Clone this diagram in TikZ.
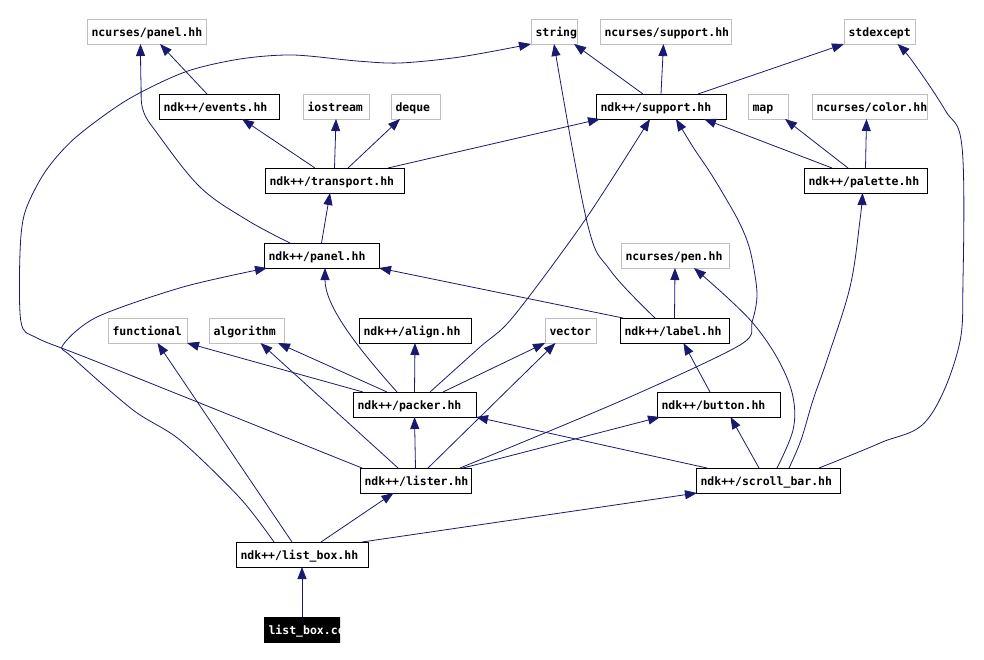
\documentclass[tikz,border=0pt]{standalone}
\usepackage{fontspec}
\setmonofont{DejaVu Sans Mono}
\usetikzlibrary{arrows.meta}
\definecolor{edgeblue}{HTML}{191970}
\definecolor{sysgray}{HTML}{BFBFBF}

\begin{document}
\begin{tikzpicture}[x=1pt,y=-1pt,
    hdr/.style={anchor=north west, minimum height=25pt, inner xsep=4.5pt, inner ysep=0pt,
        outer sep=0pt, align=left, line width=0.9pt, text height=10pt, text depth=1pt,
        font=\ttfamily\bfseries\fontsize{11.5}{13}\selectfont},
    sysfile/.style={hdr, draw=sysgray},
    ownfile/.style={hdr, draw=black},
    thisfile/.style={hdr, draw=black, fill=black, text=white},
    dep/.style={draw=edgeblue, line width=0.8pt, -{Triangle[length=12pt,width=9pt]}}]

    \useasboundingbox (0,0) rectangle (984,659);

    % row 1: system and ncurses headers
    \node[sysfile, text width=110pt] (npanel) at (87,19) {ncurses/panel.hh};
    \node[sysfile, text width=37pt] (string) at (531,19) {string};
    \node[sysfile, text width=122pt] (nsupport) at (600,19) {ncurses/support.hh};
    \node[sysfile, text width=62pt] (stdexcept) at (844,19) {stdexcept};

    % row 2
    \node[ownfile, text width=111pt] (events) at (159,94) {ndk++/events.hh};
    \node[sysfile, text width=57pt] (iostream) at (303,94) {iostream};
    \node[sysfile, text width=40pt] (deque) at (391,94) {deque};
    \node[ownfile, text width=121pt] (support) at (596,94) {ndk++/support.hh};
    \node[sysfile, text width=31pt] (map) at (748,94) {map};
    \node[sysfile, text width=106pt] (ncolor) at (812,94) {ncurses/color.hh};

    % row 3
    \node[ownfile, text width=130pt] (transport) at (265,168) {ndk++/transport.hh};
    \node[ownfile, text width=114pt] (palette) at (804,168) {ndk++/palette.hh};

    % row 4
    \node[ownfile, text width=106pt] (panel) at (264,243) {ndk++/panel.hh};
    \node[sysfile, text width=99pt] (pen) at (621,243) {ncurses/pen.hh};

    % row 5
    \node[sysfile, text width=70pt] (functional) at (108,318) {functional};
    \node[sysfile, text width=66pt] (algorithm) at (209,318) {algorithm};
    \node[ownfile, text width=103pt] (align) at (359,318) {ndk++/align.hh};
    \node[sysfile, text width=42pt] (vector) at (545,318) {vector};
    \node[ownfile, text width=100pt] (label) at (620,318) {ndk++/label.hh};

    % row 6
    \node[ownfile, text width=114pt] (packer) at (353,392) {ndk++/packer.hh};
    \node[ownfile, text width=114pt] (button) at (657,392) {ndk++/button.hh};

    % row 7
    \node[ownfile, text width=102pt] (lister) at (360,468) {ndk++/lister.hh};
    \node[ownfile, text width=135pt] (scrollbar) at (696,468) {ndk++/scroll\_bar.hh};

    % row 8
    \node[ownfile, text width=123pt] (listbox) at (236,542) {ndk++/list\_box.hh};

    % the file itself, text cut at the box edge
    \begin{scope}
        \clip (264,617) rectangle (340,642);
        \node[thisfile, text width=67pt] (cc) at (264,617) {list\_box.cc};
    \end{scope}

    % list_box.cc
    \draw[dep] (cc.north) -- (listbox.south);

    % list_box.hh
    \draw[dep] ([xshift=19pt]listbox.north) -- ([xshift=-22pt]lister.south);
    \draw[dep] ([xshift=60pt]listbox.north) -- ([xshift=1pt]scrollbar.south west);
    \draw[dep] ([xshift=-10pt]listbox.north) -- ([xshift=10pt]functional.south);
    \draw[dep] plot[smooth, tension=0.5] coordinates {([xshift=-28pt]listbox.north) (240,498)
        (180,440) (133,410) (72,357) (63,345) (97,317) (183,287) ([xshift=3pt]panel.south west)};

    % lister.hh
    \draw[dep] (lister.north) -- (packer.south);
    \draw[dep] ([xshift=12.5pt]lister.north) -- ([xshift=-15pt]vector.south);
    \draw[dep] ([xshift=-17.5pt]lister.north) -- ([xshift=14pt]algorithm.south);
    \draw[dep] plot[smooth, tension=0.5] coordinates {([xshift=2pt]lister.north west) (100,363)
        (37,338) (21,322) (20,253) (25,212) (45,172) (75,138) (127,100) (185,72) (240,59)
        (293,55) (357,61) (400,63) (460,57) (string.south west)};
    \draw[dep] plot[smooth, tension=0.5] coordinates {([xshift=-11pt]lister.north east) (623,400)
        (740,345) (752,322) (757,293) (750,250) (738,220) (713,177) (693,147)
        ([xshift=15pt]support.south)};
    \draw[dep] ([xshift=-8pt]lister.north east) -- ([xshift=3pt]button.south west);

    % packer.hh
    \draw[dep] ([xshift=10pt]packer.north west) -- (functional.south east);
    \draw[dep] ([xshift=-27.5pt]packer.north) -- ([xshift=-6pt]algorithm.south east);
    \draw[dep] ([xshift=-17.5pt]packer.north) .. controls (355,345) and (325,305) .. ([xshift=3.5pt]panel.south);
    \draw[dep] (packer.north) -- (align.south);
    \draw[dep] plot[smooth, tension=0.5] coordinates {([xshift=15.5pt]packer.north) (480,347)
        (513,317) (585,220) ([xshift=-11pt]support.south)};
    \draw[dep] ([xshift=28.5pt]packer.north) -- (vector.south west);

    % label.hh
    \draw[dep] (label.north) -- (pen.south);
    \draw[dep] ([xshift=3pt]label.north west) -- (panel.south east);
    \draw[dep] plot[smooth, tension=0.6] coordinates {([xshift=-19.5pt]label.north) (610,270)
        (587,222) (string.south)};

    % button.hh
    \draw[dep] ([xshift=-8.5pt]button.north) -- ([xshift=9pt]label.south);

    % scroll_bar.hh
    \draw[dep] ([xshift=-9pt]scrollbar.north) -- ([xshift=12pt]button.south);
    \draw[dep] plot[smooth, tension=0.6] coordinates {([xshift=9pt]scrollbar.north) (793,430)
        (793,397) (780,363) (757,328) (730,300) ([xshift=19pt]pen.south)};
    \draw[dep] plot[smooth, tension=0.6] coordinates {([xshift=21pt]scrollbar.north) (801,440)
        (813,400) (827,360) (850,287) (860,220) ([xshift=-3pt]palette.south)};
    \draw[dep] plot[smooth, tension=0.6] coordinates {([xshift=51pt]scrollbar.north) (880,443)
        (927,420) (958,350) (963,280) (962,147) (945,110) (913,62) ([xshift=18pt]stdexcept.south)};
    \draw[dep] ([xshift=11pt]scrollbar.north west) -- (packer.south east);

    % transport.hh
    \draw[dep] ([xshift=-19.5pt]transport.north) -- ([xshift=23pt]events.south);
    \draw[dep] (transport.north) -- (iostream.south);
    \draw[dep] ([xshift=13.5pt]transport.north) -- ([xshift=-15.5pt]deque.south);
    \draw[dep] ([xshift=-16pt]transport.north east) -- ([xshift=4pt]support.south west);

    % panel.hh
    \draw[dep] (panel.north) -- ([xshift=-4.5pt]transport.south);
    \draw[dep] plot[smooth, tension=0.6] coordinates {([xshift=-31.5pt]panel.north) (247,220)
        (200,187) (157,133) (143,110) (141,83) ([xshift=-6pt]npanel.south)};

    % events.hh
    \draw[dep] ([xshift=-12pt]events.north) -- ([xshift=13.5pt]npanel.south);

    % support.hh
    \draw[dep] ([xshift=-18pt]support.north) -- ([xshift=-3pt]string.south east);
    \draw[dep] (support.north) -- ([xshift=-2pt]nsupport.south);
    \draw[dep] ([xshift=37pt]support.north) -- (stdexcept.south west);

    % palette.hh
    \draw[dep] ([xshift=-33.5pt]palette.north) -- ([xshift=-22pt]support.south east);
    \draw[dep] ([xshift=-17.5pt]palette.north) -- ([xshift=-3pt]map.south east);
    \draw[dep] (palette.north) -- ([xshift=-3pt]ncolor.south);
\end{tikzpicture}
\end{document}
